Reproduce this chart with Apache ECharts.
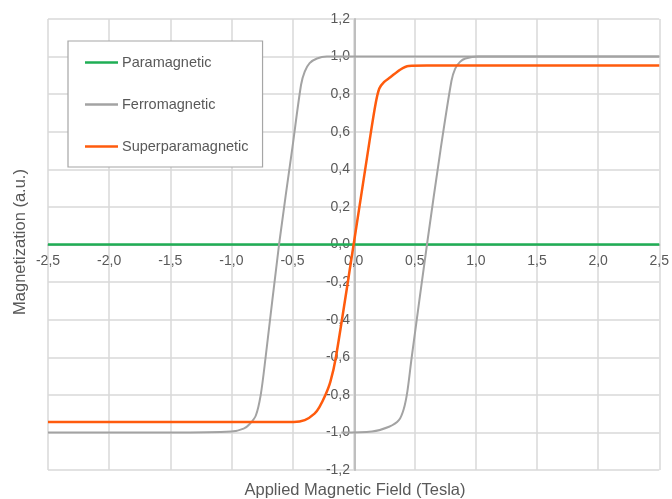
<!DOCTYPE html>
<html>
<head>
<meta charset="utf-8">
<script src="https://cdn.jsdelivr.net/npm/echarts@6/dist/echarts.min.js"></script>
<style>
  html, body { margin: 0; padding: 0; background: #fff; }
  #chart { width: 672px; height: 499px; }
</style>
</head>
<body>
<div id="chart"></div>
<script>
// values, [field (T), magnetization]
const paramagnetic = [[-2.5, 0], [2.5, 0]]

// descending branch (crosses zero near -0.6 T)
const ferroLeft = [
  [-2.5, -1.0], [-1.5, -1.0], [-1.0, -0.995], [-0.9, -0.98], [-0.85, -0.955],
  [-0.8, -0.91], [-0.76, -0.8], [-0.72, -0.6], [-0.61, 0], [-0.5, 0.52],
  [-0.43, 0.85], [-0.4, 0.92], [-0.36, 0.965], [-0.3, 0.99], [-0.22, 1.0],
  [0, 1.0], [2.5, 1.0]
]

// ascending branch (crosses zero near +0.6 T)
const ferroRight = [
  [-0.1, -1.0], [0.15, -0.995], [0.29, -0.97], [0.37, -0.935], [0.41, -0.875],
  [0.44, -0.78], [0.475, -0.6], [0.6, 0], [0.71, 0.5], [0.8, 0.87],
  [0.83, 0.935], [0.87, 0.972], [0.915, 0.99], [1.02, 1.0], [2.5, 1.0]
]

const superparamagnetic = [
  [-2.5, -0.945], [-0.49, -0.945], [-0.4, -0.935], [-0.32, -0.9], [-0.28, -0.865],
  [-0.23, -0.8], [-0.19, -0.73], [-0.145, -0.6], [0, 0], [0.13, 0.55],
  [0.18, 0.75], [0.21, 0.83], [0.25, 0.865], [0.3, 0.89], [0.38, 0.93],
  [0.45, 0.95], [0.6, 0.952], [2.5, 0.952]
]

const seriesNames = ['Paramagnetic', 'Ferromagnetic', 'Superparamagnetic']
const xTitle = 'Applied Magnetic Field (Tesla)'
const yTitle = 'Magnetization (a.u.)'

const fmt = v => {
  const s = (Math.abs(v) < 1e-9 ? 0 : v).toFixed(1)
  return s.replace('.', ',')
}

const W = 672, H = 499
const gridBox = { left: 48, right: 10, top: 19, bottom: 29 }
const xMin = -2.5, xMax = 2.5, yMin = -1.2, yMax = 1.2
// axes cross at the origin, so move them in from the grid edges
const xAxisShift = -(H - gridBox.top - gridBox.bottom) * (0 - yMin) / (yMax - yMin)
const yAxisShift = -(W - gridBox.left - gridBox.right) * (0 - xMin) / (xMax - xMin)

const labelFont = { color: '#595959', fontSize: 14, fontFamily: 'Liberation Sans' }

const chart = echarts.init(document.getElementById('chart'), null, { renderer: 'canvas' })

const lineSeries = (name, data, color, width) => ({
  name: name,
  type: 'line',
  data: data,
  symbol: 'none',
  smooth: 0.3,
  lineStyle: { color: color, width: width },
  itemStyle: { color: color },
  animation: false
})

chart.setOption({
  backgroundColor: '#fff',
  textStyle: { fontFamily: 'Liberation Sans' },
  grid: Object.assign({ containLabel: false }, gridBox),
  legend: {
    data: seriesNames,
    orient: 'vertical',
    left: 68,
    top: 41,
    padding: [14, 14, 13, 17],
    itemGap: 27,
    icon: 'rect',
    itemWidth: 33,
    itemHeight: 2.5,
    backgroundColor: '#fff',
    borderColor: '#a6a6a6',
    borderWidth: 1.2,
    textStyle: { color: '#595959', fontSize: 14.5, fontFamily: 'Liberation Sans', padding: [0, 0, 0, -1] }
  },
  xAxis: {
    type: 'value',
    min: xMin,
    max: xMax,
    interval: 0.5,
    offset: xAxisShift,
    axisLine: { onZero: false, lineStyle: { color: '#bfbfbf', width: 2 } },
    axisTick: { show: false },
    axisLabel: Object.assign({ formatter: fmt, margin: 10 }, labelFont),
    splitLine: { lineStyle: { color: '#d9d9d9', width: 1.5 } }
  },
  yAxis: {
    type: 'value',
    min: yMin,
    max: yMax,
    interval: 0.2,
    offset: yAxisShift,
    axisLine: { onZero: false, lineStyle: { color: '#bfbfbf', width: 2 } },
    axisTick: { show: false },
    axisLabel: Object.assign({ formatter: fmt, margin: 5 }, labelFont),
    splitLine: { lineStyle: { color: '#d9d9d9', width: 1.5 } }
  },
  graphic: [
    {
      type: 'text',
      x: 355,
      y: 490,
      style: { text: xTitle, align: 'center', verticalAlign: 'middle',
        fill: '#595959', fontSize: 16.5, fontFamily: 'Liberation Sans' }
    },
    {
      type: 'text',
      x: 20,
      y: 242,
      rotation: Math.PI / 2,
      style: { text: yTitle, align: 'center', verticalAlign: 'middle',
        fill: '#595959', fontSize: 16.5, fontFamily: 'Liberation Sans' }
    }
  ],
  series: [
    lineSeries(seriesNames[0], paramagnetic, '#1fae55', 2.5),
    lineSeries(seriesNames[1], ferroLeft, '#a3a3a3', 2),
    lineSeries(seriesNames[1], ferroRight, '#a3a3a3', 2),
    lineSeries(seriesNames[2], superparamagnetic, '#ff5b0d', 2.5)
  ]
})
</script>
</body>
</html>
